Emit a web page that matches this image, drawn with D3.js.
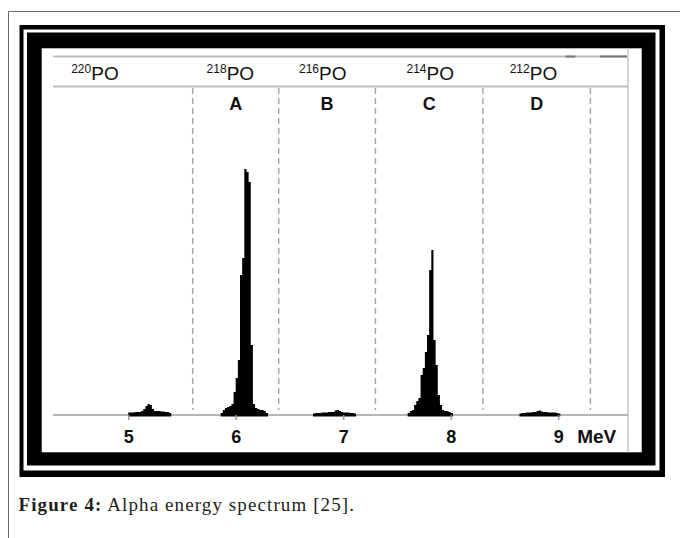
<!doctype html>
<html lang="en">
<head>
    <meta charset="UTF-8">
    <title>Alpha energy spectrum</title>
    <script src="https://d3js.org/d3.v7.min.js"></script>
    <style>
        body { margin: 0; background: #fff; }
        svg text { font-family: "Liberation Sans", Arial, sans-serif; fill: #111; }
        .caption text { font-family: "Liberation Serif", "Times New Roman", serif; fill: #231f20; }
    </style>
</head>
<body>
<div id="chart"></div>
<script>

    //energy axis, MeV
    const tickValues = [5, 6, 7, 8, 9];
    const zoneEdges = [5.6, 6.4, 7.3, 8.3, 9.3];
    const zoneLetters = ["A", "B", "C", "D"];
    const isotopeMass = ["220", "218", "216", "214", "212"];
    const isotopeAt = [4.69, 5.95, 6.81, 7.81, 8.77];
    const topMarks = [[9.07, 9.16], [9.39, 9.64]];

    //spectrum, counts per 0.02 MeV channel (arbitrary units)
    const binWidth = 0.02;
    const po220Start = 5.00;
    const po220Counts = [1.6, 1.6, 1.6, 1.8, 1.8, 1.8, 2.2, 3.0, 4.2, 5.0, 4.6, 3.0, 2.2, 2.2, 2.2, 2.0, 2.0, 1.8, 1.8, 1.4];
    const po218Start = 5.86;
    const po218Counts = [1.4, 2.6, 3.4, 3.8, 4.2, 5.0, 9.8, 15.4, 22.6, 56.6, 63.4, 99, 97.8, 93.8, 28.6, 5.0, 3.4, 3.0, 2.6, 2.6, 2.2, 1.4];
    const po216Start = 6.72;
    const po216Counts = [1.2, 1.4, 1.4, 1.4, 1.6, 1.6, 1.6, 1.8, 1.8, 1.8, 2.4, 2.6, 2.2, 1.8, 1.6, 1.6, 1.6, 1.4, 1.4, 1.2];
    const po214Start = 7.60;
    const po214Counts = [1.4, 2.2, 2.6, 4.6, 6.2, 7.4, 16.6, 19.4, 25.8, 32.6, 58.6, 66.6, 30.6, 20.6, 8.6, 4.6, 2.6, 2.2, 2.2, 1.8, 1.4];
    const po212Start = 8.64;
    const po212Counts = [1.2, 1.4, 1.4, 1.6, 1.6, 1.6, 1.8, 1.8, 2.2, 2.4, 2.0, 1.8, 1.8, 1.6, 1.6, 1.6, 1.6, 1.4, 1.2];

    const peaks = [
        {start: po220Start, counts: po220Counts},
        {start: po218Start, counts: po218Counts},
        {start: po216Start, counts: po216Counts},
        {start: po214Start, counts: po214Counts},
        {start: po212Start, counts: po212Counts}
    ];

    let svg = d3.select("#chart").append("svg")
        .attr("width", 680)
        .attr("height", 538);

    svg.append("rect").attr("width", 680).attr("height", 538).attr("fill", "#fff");

    //page border (top and left rule)
    svg.append("path")
        .attr("d", "M8.5,538V11.5H680")
        .attr("fill", "none")
        .attr("stroke", "#666")
        .attr("stroke-width", 1);

    //double black frame
    let frame = svg.append("g");
    frame.append("rect").attr("x", 19.5).attr("y", 25).attr("width", 645.5).attr("height", 452).attr("fill", "#000");
    frame.append("rect").attr("x", 23.5).attr("y", 29.5).attr("width", 636).attr("height", 441).attr("fill", "#fff");
    frame.append("rect").attr("x", 27).attr("y", 32.5).attr("width", 628.5).attr("height", 433).attr("fill", "#000");
    frame.append("rect").attr("x", 41.7).attr("y", 48.3).attr("width", 600).attr("height", 404).attr("fill", "#fff");

    //scales
    let x = d3.scaleLinear().domain([4.3, 9.65]).range([53, 628]);
    let y = d3.scaleLinear().domain([0, 100]).range([416.5, 166.5]);
    let baseY = 415;

    //header rules
    [56.5, 86.5].forEach(function (ly) {
        svg.append("line")
            .attr("x1", x.range()[0]).attr("x2", x.range()[1])
            .attr("y1", ly).attr("y2", ly)
            .attr("stroke", "#bdbdbd").attr("stroke-width", 2);
    });
    svg.selectAll(".topmark")
        .data(topMarks)
        .enter()
        .append("line")
        .attr("class", "topmark")
        .attr("x1", function (d) { return x(d[0]); })
        .attr("x2", function (d) { return x(d[1]); })
        .attr("y1", 56.5).attr("y2", 56.5)
        .attr("stroke", "#777").attr("stroke-width", 2);

    //right rule
    svg.append("line")
        .attr("x1", x.range()[1]).attr("x2", x.range()[1])
        .attr("y1", 48.3).attr("y2", 452.3)
        .attr("stroke", "#c8c8c8").attr("stroke-width", 1.5);

    //isotope labels
    let iso = svg.selectAll(".iso")
        .data(isotopeMass)
        .enter()
        .append("text")
        .attr("class", "iso")
        .attr("x", function (d, i) { return x(isotopeAt[i]); })
        .attr("y", 80)
        .attr("text-anchor", "middle");
    iso.append("tspan")
        .attr("font-size", 12)
        .attr("dy", -7)
        .text(function (d) { return d; });
    iso.append("tspan")
        .attr("font-size", 19)
        .attr("dy", 7)
        .text("PO");

    //baseline
    svg.append("line")
        .attr("x1", x.range()[0]).attr("x2", x.range()[1])
        .attr("y1", baseY).attr("y2", baseY)
        .attr("stroke", "#b5b5b5").attr("stroke-width", 2);

    //zone dividers
    svg.selectAll(".zone")
        .data(zoneEdges)
        .enter()
        .append("line")
        .attr("class", "zone")
        .attr("x1", function (d) { return x(d); })
        .attr("x2", function (d) { return x(d); })
        .attr("y1", 88).attr("y2", 410)
        .attr("stroke", "#a8a8a8")
        .attr("stroke-width", 1.5)
        .attr("stroke-dasharray", "6,4");

    //zone letters, centred between dividers
    svg.selectAll(".letter")
        .data(zoneLetters)
        .enter()
        .append("text")
        .attr("class", "letter")
        .attr("x", function (d, i) { return x((zoneEdges[i] + zoneEdges[i + 1]) / 2); })
        .attr("y", 110)
        .attr("text-anchor", "middle")
        .attr("font-size", 18)
        .attr("font-weight", "bold")
        .text(function (d) { return d; });

    //spectrum
    let area = d3.area()
        .curve(d3.curveStepAfter)
        .x(function (d) { return x(d.e); })
        .y0(y(0))
        .y1(function (d) { return y(d.c); });

    peaks.forEach(function (p) {
        let bins = p.counts.map(function (c, i) { return {e: p.start + i * binWidth, c: c}; });
        bins.push({e: p.start + p.counts.length * binWidth, c: p.counts[p.counts.length - 1]});
        svg.append("path")
            .datum(bins)
            .attr("d", area)
            .attr("fill", "#000");
    });

    //energy axis
    let axis = d3.axisBottom(x)
        .tickValues(tickValues)
        .tickSize(5)
        .tickPadding(10)
        .tickFormat(d3.format("d"));

    let ax = svg.append("g")
        .attr("transform", "translate(0," + baseY + ")")
        .call(axis);
    ax.select(".domain").remove();
    ax.selectAll(".tick line").attr("stroke", "#999").attr("stroke-width", 1.5);
    ax.selectAll(".tick text")
        .attr("font-size", 18)
        .attr("font-weight", "bold")
        .attr("font-family", "Liberation Sans, Arial, sans-serif")
        .attr("fill", "#111");

    svg.append("text")
        .attr("x", x(9) + 19)
        .attr("y", baseY + 28)
        .attr("font-size", 19)
        .attr("font-weight", "bold")
        .text("MeV");

    //caption
    let cap = svg.append("g").attr("class", "caption")
        .append("text")
        .attr("x", 18.5)
        .attr("y", 511)
        .attr("font-size", 19)
        .attr("letter-spacing", 1.1);
    cap.append("tspan").attr("font-weight", "bold").text("Figure 4:");
    cap.append("tspan").text(" Alpha energy spectrum [25].");

</script>
</body>
</html>
